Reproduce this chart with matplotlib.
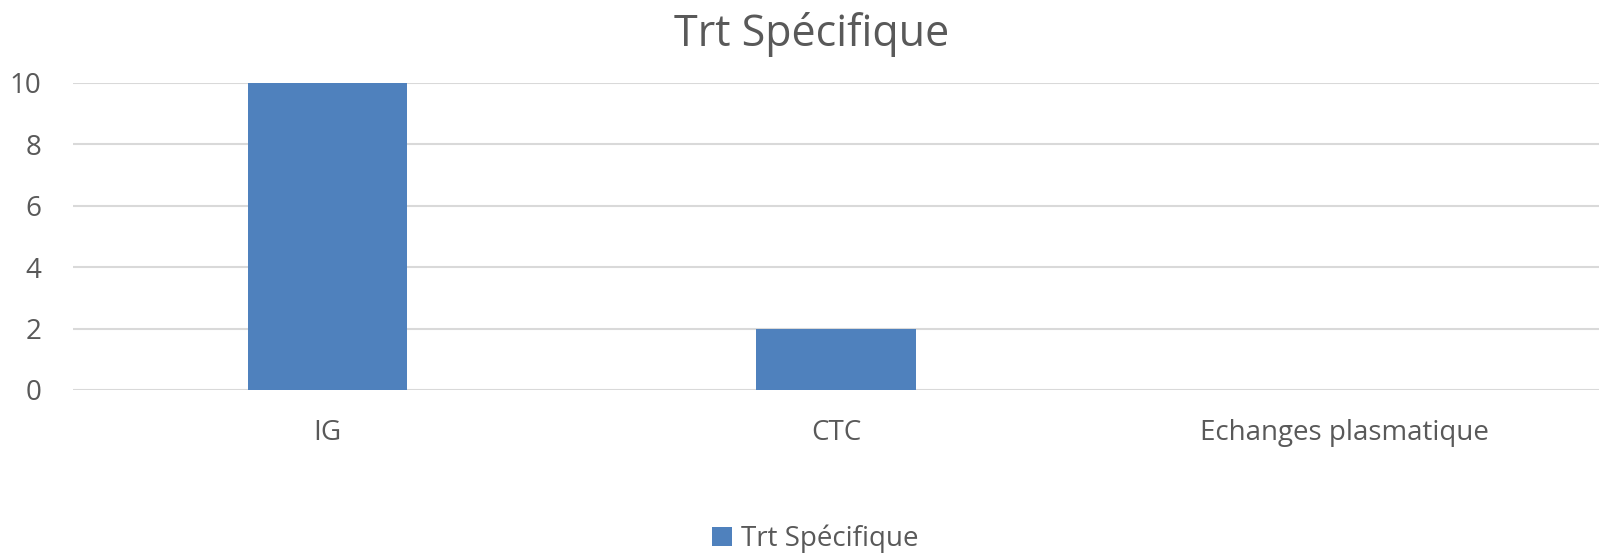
import matplotlib
matplotlib.use("Agg")
import matplotlib.pyplot as plt
from matplotlib.patches import Patch

categories = ["IG", "CTC", "Echanges plasmatique"]
values = [10, 2, 0]
series_name = "Trt Spécifique"
title = "Trt Spécifique"
yticks = [0, 2, 4, 6, 8, 10]

plt.rcParams['font.family'] = ['Open Sans', 'DejaVu Sans']
text_color = "#595959"
bar_color = "#4F81BD"
grid_color = "#D9D9D9"

fig = plt.figure(figsize=(16.04, 5.53), dpi=100)
ax = fig.add_axes([0.0455, 0.2948, 0.9515, 0.5552])

x = list(range(len(categories)))
ax.bar(x, values, width=0.313, color=bar_color, zorder=3)
ax.set_xlim(-0.5, len(categories) - 0.5)
ax.set_ylim(0, 10)
ax.set_yticks(yticks)
ax.set_yticklabels([str(t) for t in yticks], fontsize=20, color=text_color)
ax.set_xticks(x)
ax.set_xticklabels(categories, fontsize=20, color=text_color)
ax.tick_params(axis='y', length=0, pad=23)
ax.tick_params(axis='x', length=0, pad=21)
ax.grid(axis='y', color=grid_color, linewidth=1.5, zorder=0)
for s in ax.spines.values():
    s.set_visible(False)

fig.text(0.506, 0.938, title, ha='center', va='center', fontsize=31, color=text_color)

handles = [Patch(facecolor=bar_color, label=series_name)]
fig.legend(handles=handles, loc='center', bbox_to_anchor=(0.5085, 0.025), frameon=False,
           fontsize=20, labelcolor=text_color, handlelength=0.7, handleheight=0.7,
           handletextpad=0.35)

fig.savefig("out.png", dpi=100)
